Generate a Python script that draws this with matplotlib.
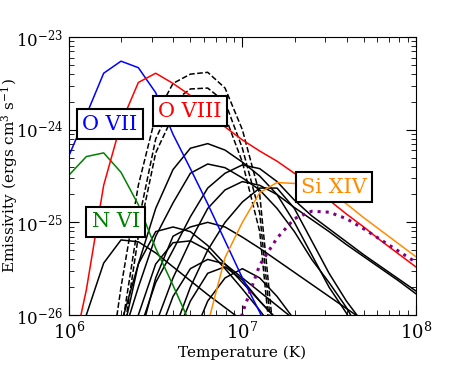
import numpy as np
import matplotlib
matplotlib.use("Agg")
import matplotlib.pyplot as plt

# log10 temperature grid (K)
log_t = np.round(np.arange(6.0, 8.01, 0.1), 1)
nan = np.nan

# log10 emissivity on the grid
o_vii = [-24.28, -23.84, -23.39, -23.26, -23.33, -23.60, -24.05, -24.42, -24.80, -25.20,
         -25.60, -25.97, -26.4, nan, nan, nan, nan, nan, nan, nan, nan]
o_viii = [-26.6, -25.73, -24.60, -23.93, -23.49, -23.39, -23.50, -23.63, -23.79, -23.97,
          -24.11, -24.23, -24.34, -24.47, -24.61, -24.76, -24.91, -25.05, -25.20, -25.34, -25.48]
n_vi = [-24.49, -24.29, -24.25, -24.46, -24.81, -25.28, -25.68, -26.1, nan, nan,
        nan, nan, nan, nan, nan, nan, nan, nan, nan, nan, nan]
si_xiv = [nan, nan, nan, nan, nan, nan, nan, nan, -26.1, -25.38,
          -25.00, -24.68, -24.57, -24.58, -24.60, -24.68, -24.80, -24.95, -25.09, -25.23, -25.37]
s_xvi = [nan, nan, nan, nan, nan, nan, nan, nan, nan, -26.8,
         -25.98, -25.46, -25.17, -24.96, -24.88, -24.89, -24.96, -25.07, -25.19, -25.31, -25.43]

fe_xvii = [
    [nan, nan, -27.0, -25.70, -24.60, -23.85, -23.50, -23.40, -23.38, -23.55,
     -24.00, -24.70, -26.60, nan, nan, nan, nan, nan, nan, nan, nan],
    [nan, nan, nan, -26.20, -25.00, -24.10, -23.70, -23.56, -23.55, -23.70,
     -24.20, -24.90, -26.80, nan, nan, nan, nan, nan, nan, nan, nan],
    [nan, nan, nan, -26.40, -25.15, -24.25, -23.85, -23.70, -23.68, -23.85,
     -24.35, -25.10, -27.00, nan, nan, nan, nan, nan, nan, nan, nan],
]

other_lines = [
    [nan, -26.00, -25.44, -25.19, -25.21, -25.33, -25.48, -25.63, -25.78, -25.92,
     -26.06, nan, nan, nan, nan, nan, nan, nan, nan, nan, nan],
    [nan, nan, nan, -26.30, -25.45, -24.85, -24.43, -24.20, -24.15, -24.22,
     -24.35, -24.50, -24.70, -25.00, -25.35, -25.70, -25.98, -26.40, nan, nan, nan],
    [nan, nan, nan, -26.30, -25.70, -25.15, -24.79, -24.47, -24.37, -24.41,
     -24.52, -24.65, -24.85, -25.10, -25.40, -25.65, -25.92, -26.25, nan, nan, nan],
    [nan, nan, nan, nan, -26.20, -25.65, -25.30, -24.94, -24.63, -24.47,
     -24.38, -24.42, -24.56, -24.76, -24.93, -25.07, -25.21, -25.35, -25.48, -25.61, -25.74],
    [nan, nan, nan, nan, nan, -26.10, -25.60, -25.20, -24.85, -24.65,
     -24.56, -24.60, -24.70, -24.84, -24.97, -25.10, -25.24, -25.37, -25.50, -25.63, -25.77],
    [nan, nan, nan, nan, nan, nan, -26.20, -25.70, -25.30, -25.00,
     -24.78, -24.63, -24.63, -24.85, -25.20, -25.55, -25.85, -26.10, nan, nan, nan],
    [nan, nan, nan, nan, -26.30, -25.60, -25.15, -25.05, -25.00, -25.05,
     -25.16, -25.28, -25.41, -25.54, -25.67, -25.80, -25.93, -26.06, nan, nan, nan],
    [nan, nan, nan, nan, nan, -26.30, -25.80, -25.50, -25.40, -25.45,
     -25.60, -25.75, -25.90, -26.05, nan, nan, nan, nan, nan, nan, nan],
    [nan, nan, nan, nan, nan, nan, -26.30, -25.85, -25.55, -25.48,
     -25.62, -25.85, -26.05, nan, nan, nan, nan, nan, nan, nan, nan],
    [nan, nan, nan, -26.10, -25.45, -25.10, -25.05, -25.10, -25.25, -25.45,
     -25.65, -25.85, -26.05, nan, nan, nan, nan, nan, nan, nan, nan],
    [nan, nan, nan, nan, -26.00, -25.45, -25.22, -25.20, -25.30, -25.50,
     -25.72, -25.95, -26.20, nan, nan, nan, nan, nan, nan, nan, nan],
    [nan, nan, nan, nan, nan, nan, nan, -26.30, -25.85, -25.60,
     -25.50, -25.60, -25.80, -26.05, nan, nan, nan, nan, nan, nan, nan],
]

x_ticks = [1e6, 1e7, 1e8]
y_ticks = [1e-26, 1e-25, 1e-24, 1e-23]

labels = ["O VII", "O VIII", "N VI", "Si XIV"]
label_colors = ["blue", "red", "green", "darkorange"]
label_pos = [(0.118, 0.687), (0.349, 0.734), (0.135, 0.335), (0.764, 0.460)]

plt.rcParams["font.family"] = "DejaVu Serif"
plt.rcParams["mathtext.fontset"] = "dejavuserif"
plt.rcParams["axes.unicode_minus"] = False

fig = plt.figure(figsize=(4.63, 3.71), dpi=100)
ax = fig.add_axes([0.149, 0.151, 0.749, 0.749])

T = 10 ** log_t
for line in other_lines:
    ax.plot(T, 10 ** np.array(line), color="black", lw=1.1)
for line in fe_xvii:
    ax.plot(T, 10 ** np.array(line), color="black", lw=1.1, ls="--")
ax.plot(T, 10 ** np.array(n_vi), color="green", lw=1.1)
ax.plot(T, 10 ** np.array(o_vii), color="blue", lw=1.1)
ax.plot(T, 10 ** np.array(o_viii), color="red", lw=1.1)
ax.plot(T, 10 ** np.array(si_xiv), color="darkorange", lw=1.1)
ax.plot(T, 10 ** np.array(s_xvi), color="purple", lw=2.2, ls=":")

ax.set_xscale("log")
ax.set_yscale("log")
ax.set_xticks(x_ticks)
ax.set_yticks(y_ticks)
ax.set_xlim(1e6, 1e8)
ax.set_ylim(1e-26, 1e-23)
ax.tick_params(which="both", direction="in", top=True, right=True)
ax.tick_params(axis="x", labelsize=13, pad=5)
ax.tick_params(axis="y", labelsize=12, pad=4)
ax.tick_params(which="major", length=7)
ax.tick_params(which="minor", length=3.5)
ax.set_xlabel("Temperature (K)", fontsize=11, labelpad=2)
ax.set_ylabel(r"Emissivity (ergs cm$^3$ s$^{-1}$)", fontsize=11)
ax.yaxis.set_label_coords(-0.142, 0.5)

for text, c, (x, y) in zip(labels, label_colors, label_pos):
    ax.text(x, y, text, color=c, fontsize=15, ha="center", va="center",
            transform=ax.transAxes,
            bbox=dict(boxstyle="square,pad=0.25", fc="white", ec="black", lw=1.5))

fig.savefig("out.png", dpi=100)
